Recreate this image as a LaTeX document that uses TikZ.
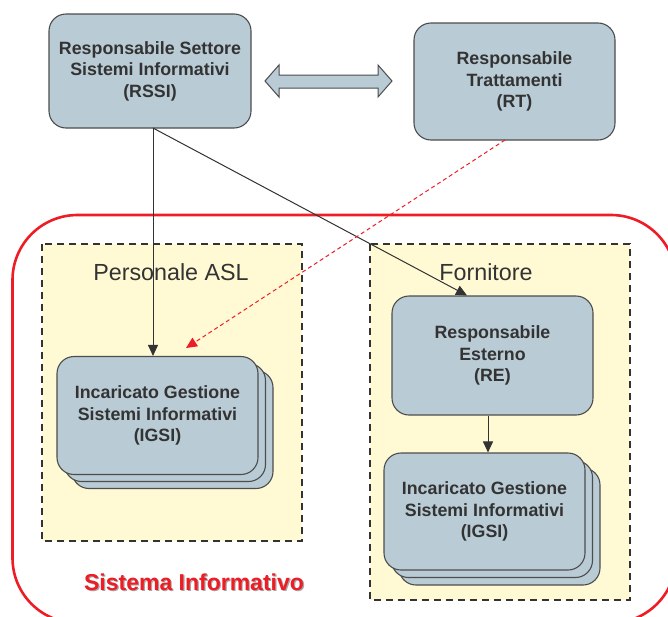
\documentclass[tikz,border=0pt]{standalone}
\usepackage{fontspec}
\setmainfont{Liberation Sans}
\usetikzlibrary{arrows.meta}
\definecolor{boxfill}{HTML}{B9CBD5}
\definecolor{boxline}{HTML}{4D4D4D}
\definecolor{txt}{HTML}{333333}
\definecolor{yel}{HTML}{FFFAD4}
\definecolor{redline}{HTML}{EE1C25}
\tikzset{
  bluebox/.style={draw=boxline, fill=boxfill, line width=1.1pt, rounded corners=17pt,
    align=center, text=txt, font=\bfseries\fontsize{17.8}{21.5}\selectfont, inner sep=0pt},
  groupbox/.style={draw=txt, fill=yel, dash pattern=on 7pt off 5pt, line width=1.8pt},
  grouplabel/.style={text=txt, font=\fontsize{23.3}{26}\selectfont, inner sep=0pt},
  conn/.style={draw=txt, line width=1pt, -{Triangle[length=11pt,width=10pt]}},
  redconn/.style={draw=redline, line width=1pt, dash pattern=on 4pt off 3pt, -{Triangle[length=11pt,width=10pt]}, redline},
}
\begin{document}
\begin{tikzpicture}[x=1pt,y=-1pt]
\useasboundingbox (0,0) rectangle (668,616);
\clip (0,0) rectangle (668,616);
% red system frame
\draw[redline, line width=2.6pt, rounded corners=65pt] (12.5,215) rectangle (676,623);
% group boxes
\draw[groupbox] (42,244) rectangle (302,541);
\draw[groupbox] (370,244) rectangle (630,600);
\node[grouplabel] (lasl) at (171,272) {Personale ASL};
\node[grouplabel] (lforn) at (486,272) {Fornitore};
% top boxes
\node[bluebox, minimum width=202pt, minimum height=114pt] (rssi) at (150,71)
  {Responsabile Settore\\Sistemi Informativi\\(RSSI)};
\node[bluebox, minimum width=201pt, minimum height=117pt] (rt) at (514.5,81.5)
  {Responsabile\\Trattamenti\\(RT)};
% double arrow
\draw[boxline, fill=boxfill, line width=1pt, line join=miter]
  (265,81) -- (279,65) -- (279,75) -- (378,75) -- (378,65) -- (392,81)
  -- (378,97) -- (378,88) -- (279,88) -- (279,97) -- cycle;
% left IGSI stack
\node[bluebox, minimum width=201pt, minimum height=118pt] (igsiAc) at (172.5,429.5) {};
\node[bluebox, minimum width=201pt, minimum height=118pt] (igsiAb) at (165,422.5) {};
\node[bluebox, minimum width=201pt, minimum height=118pt] (igsiA) at (157.5,415.5)
  {Incaricato Gestione\\Sistemi Informativi\\(IGSI)};
% RE
\node[bluebox, minimum width=201pt, minimum height=119pt] (re) at (492.5,355.5)
  {Responsabile\\Esterno\\(RE)};
% right IGSI stack
\node[bluebox, minimum width=201pt, minimum height=117pt] (igsiBc) at (499.5,526.5) {};
\node[bluebox, minimum width=201pt, minimum height=117pt] (igsiBb) at (492,519) {};
\node[bluebox, minimum width=201pt, minimum height=117pt] (igsiB) at (484.5,511.5)
  {Incaricato Gestione\\Sistemi Informativi\\(IGSI)};
% connectors
\coordinate (rssib) at (153,128);
\draw[conn] (rssib) -- (igsiA.north -| rssib);
\draw[conn] (rssib) -- (re.north -| 467,0);
\draw[conn] (re.south -| 488,0) -- (igsiB.north -| 488,0);
\coordinate (rtb) at (505,140);
\coordinate (redend) at (186,348);
\draw[redconn] (rtb) -- (redend);
% title
\node[text=black!35, font=\bfseries\fontsize{23}{26}\selectfont, inner sep=0pt] (titleshadow) at (195.2,583.2) {Sistema Informativo};
\node[text=redline, font=\bfseries\fontsize{23}{26}\selectfont, inner sep=0pt] (title) at (194,582) {Sistema Informativo};
\end{tikzpicture}
\end{document}
